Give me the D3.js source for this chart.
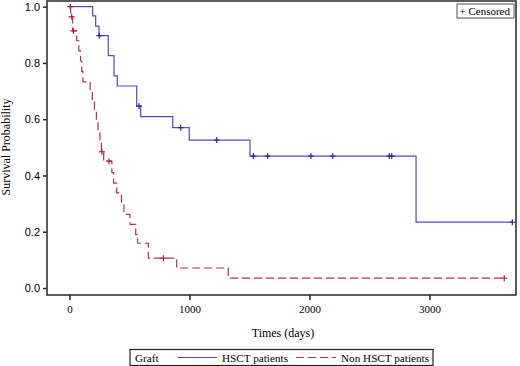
<!DOCTYPE html>
<html><head><meta charset="utf-8">
<script src="https://cdn.jsdelivr.net/npm/d3@7"></script>
<style>
html,body{margin:0;padding:0;background:#fff;}
svg{display:block;}
.serif{font-family:"Times New Roman", Times, "Liberation Serif", serif;}
</style></head>
<body>
<svg id="chart" width="520" height="366"></svg>
<script>
// ---- data ----
const xTicks = [0, 1000, 2000, 3000];
const yTicks = [0.0, 0.2, 0.4, 0.6, 0.8, 1.0];
const seriesNames = ["HSCT patients", "Non HSCT patients"];

// HSCT: step points [day, survival]
const hsctDays = [0, 193, 218, 246, 323, 371, 398, 560, 593, 860, 998, 1504, 2888, 3690];
const hsctSurv = [1.0, 0.967, 0.931, 0.897, 0.826, 0.754, 0.718, 0.647, 0.609, 0.570, 0.526, 0.469, 0.234, 0.234];
const hsctCensDays = [248, 579, 927, 1227, 1532, 1651, 2012, 2193, 2665, 2685, 3690];
const hsctCensSurv = [0.897, 0.647, 0.570, 0.526, 0.469, 0.469, 0.469, 0.469, 0.469, 0.469, 0.234];

// Non HSCT
const nonDays = [0, 10, 26, 60, 78, 92, 102, 112, 172, 190, 208, 224, 238, 254, 266, 285, 353, 368, 393, 433, 454, 504, 552, 568, 657, 893, 1323, 3623];
const nonSurv = [1.0, 0.964, 0.914, 0.879, 0.843, 0.807, 0.770, 0.733, 0.698, 0.662, 0.627, 0.592, 0.556, 0.521, 0.484, 0.451, 0.410, 0.373, 0.338, 0.300, 0.262, 0.226, 0.190, 0.159, 0.106, 0.071, 0.035, 0.035];
const nonCensDays = [7, 18, 32, 270, 329, 782, 3623];
const nonCensSurv = [1.0, 0.964, 0.914, 0.484, 0.451, 0.106, 0.035];

const colors = ["#4c4cc8", "#b4304f"];
const censColors = ["#2a2aa8", "#a8203f"];

// ---- chart ----
const svg = d3.select("#chart");
const x = d3.scaleLinear().domain([-187.5, 3720.8]).range([47, 516]);
const y = d3.scaleLinear().domain([-0.0249, 1.022]).range([295, 0.5]);

// axes
const xAxis = svg.append("g").attr("transform", "translate(0,295)")
  .call(d3.axisBottom(x).tickValues(xTicks).tickSize(5).tickPadding(3).tickFormat(d3.format("d")));
xAxis.attr("font-family", null).attr("font-size", 11).classed("serif", true);
xAxis.select(".domain").remove();
xAxis.selectAll("text").attr("dy", "0.9em").attr("fill", "#000");
xAxis.selectAll("line").attr("stroke", "#222").attr("stroke-width", 1.5);

const yAxis = svg.append("g").attr("transform", "translate(47,0)")
  .call(d3.axisLeft(y).tickValues(yTicks).tickSize(4).tickPadding(3).tickFormat(d3.format(".1f")));
yAxis.attr("font-family", "'Liberation Sans Narrow', 'Liberation Sans', Arial, sans-serif").attr("font-size", 11);
yAxis.select(".domain").remove();
yAxis.selectAll("text").attr("fill", "#000");
yAxis.selectAll("line").attr("stroke", "#222").attr("stroke-width", 1.5);

// curves
const line = d3.line().x(d => x(d[0])).y(d => y(d[1])).curve(d3.curveStepAfter);
const hsct = hsctDays.map((d, i) => [d, hsctSurv[i]]);
const non = nonDays.map((d, i) => [d, nonSurv[i]]);

svg.append("path").datum(non).attr("d", line).attr("fill", "none")
  .attr("stroke", colors[1]).attr("stroke-width", 1.2).attr("stroke-dasharray", "8,4");
svg.append("path").datum(hsct).attr("d", line).attr("fill", "none")
  .attr("stroke", colors[0]).attr("stroke-width", 1.2);

function censor(days, surv, col) {
  const g = svg.append("g").attr("stroke", col).attr("stroke-width", 1.2);
  days.forEach((d, i) => {
    const cx = x(d), cy = y(surv[i]);
    g.append("line").attr("x1", cx - 3).attr("x2", cx + 3).attr("y1", cy).attr("y2", cy);
    g.append("line").attr("x1", cx).attr("x2", cx).attr("y1", cy - 3).attr("y2", cy + 3);
  });
}
censor(hsctCensDays, hsctCensSurv, censColors[0]);
censor(nonCensDays, nonCensSurv, censColors[1]);

// frame
svg.append("rect").attr("x", 47).attr("y", 1).attr("width", 469).attr("height", 294)
  .attr("fill", "none").attr("stroke", "#333").attr("stroke-width", 1.6);

function txt(sel) { return sel.classed("serif", true).attr("fill", "#000"); }

// censored legend
svg.append("rect").attr("x", 457).attr("y", 4).attr("width", 57).attr("height", 14)
  .attr("fill", "#fff").attr("stroke", "#555").attr("stroke-width", 1);
txt(svg.append("text")).attr("x", 459.5).attr("y", 15).attr("font-size", 11).text("+ Censored");

// axis titles
txt(svg.append("text")).attr("x", 283).attr("y", 337).attr("text-anchor", "middle").attr("font-size", 12).text("Times (days)");
txt(svg.append("text")).attr("transform", "translate(10,147) rotate(-90)").attr("text-anchor", "middle").attr("font-size", 12).text("Survival Probability");

// bottom legend
const lg = svg.append("g");
lg.append("rect").attr("x", 130).attr("y", 349.5).attr("width", 303).attr("height", 16)
  .attr("fill", "#fff").attr("stroke", "#222").attr("stroke-width", 1.2);
txt(lg.append("text")).attr("x", 135).attr("y", 362).attr("font-size", 11.2).text("Graft");
lg.append("line").attr("x1", 178).attr("x2", 217).attr("y1", 357.5).attr("y2", 357.5).attr("stroke", colors[0]).attr("stroke-width", 1.2);
txt(lg.append("text")).attr("x", 222).attr("y", 362).attr("font-size", 11.2).text(seriesNames[0]);
lg.append("line").attr("x1", 296).attr("x2", 336).attr("y1", 357.5).attr("y2", 357.5).attr("stroke", colors[1]).attr("stroke-width", 1.2).attr("stroke-dasharray", "8,4");
txt(lg.append("text")).attr("x", 341).attr("y", 362).attr("font-size", 11.2).text(seriesNames[1]);
</script>
</body></html>
